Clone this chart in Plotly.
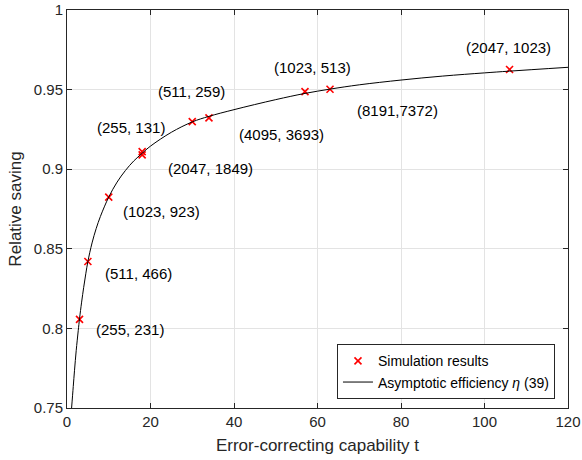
import plotly.graph_objects as go

# Simulation results (error-correcting capability t, relative saving)
sim_t = [3, 5, 10, 18, 18, 30, 34, 57, 63, 106]
sim_y = [0.8057, 0.842, 0.8825, 0.911, 0.909, 0.9299, 0.9322, 0.9487, 0.9502, 0.9626]

# Asymptotic efficiency curve
curve_t = [1.1, 1.5, 1.8, 2.2, 2.7, 3, 3.5, 4, 4.5, 5, 6, 7, 8, 10, 12, 14, 16, 18, 20,
           25, 30, 34, 40, 50, 57, 63, 70, 80, 90, 100, 106, 120]
curve_y = [0.750, 0.7635, 0.7737, 0.786, 0.7988, 0.806, 0.8165, 0.8258, 0.8343, 0.842,
           0.8537, 0.8628, 0.8703, 0.8825, 0.8919, 0.8992, 0.9052, 0.910, 0.9145,
           0.9232, 0.9297, 0.9332, 0.9374, 0.9437, 0.9476, 0.9503, 0.9530, 0.9560,
           0.9585, 0.9605, 0.9616, 0.9640]

# Code labels (n, k) and their positions
label_text = ["(255, 231)", "(511, 466)", "(1023, 923)", "(255, 131)", "(2047, 1849)",
              "(511, 259)", "(4095, 3693)", "(1023, 513)", "(8191,7372)", "(2047, 1023)"]
label_t = [15.1, 17.2, 22.7, 15.3, 34.4, 29.9, 51.3, 58.8, 79.1, 105.7]
label_y = [0.7994, 0.8344, 0.8736, 0.9265, 0.9004, 0.9491, 0.9217, 0.9638, 0.9366, 0.9764]

x_ticks = [0, 20, 40, 60, 80, 100, 120]
y_ticks = [0.75, 0.8, 0.85, 0.9, 0.95, 1]
y_ticklabels = ["0.75", "0.8", "0.85", "0.9", "0.95", "1"]

FONT = "Liberation Sans, Arial, sans-serif"
AX = "#262626"

fig = go.Figure()
fig.add_trace(go.Scatter(
    x=sim_t, y=sim_y, mode="markers", name="Simulation results",
    marker=dict(symbol="x-thin", size=7, color="red", line=dict(width=1.6, color="red")),
))
fig.add_trace(go.Scatter(
    x=curve_t, y=curve_y, mode="lines", name="Asymptotic efficiency <i>η</i> (39)",
    line=dict(color="black", width=1, shape="spline", smoothing=1),
))

for txt, tx, ty in zip(label_text, label_t, label_y):
    fig.add_annotation(x=tx, y=ty, text=txt, showarrow=False,
                       font=dict(family=FONT, size=15, color="black"),
                       xanchor="center", yanchor="middle")

axis_common = dict(
    showline=True, linecolor=AX, linewidth=1, mirror="ticks",
    ticks="inside", ticklen=5, tickcolor=AX, tickwidth=1,
    showgrid=True, gridcolor="#e3e3e3", gridwidth=1,
    zeroline=False, automargin=False, ticklabeloverflow="allow",
    tickfont=dict(family=FONT, size=15, color=AX),
)

fig.update_xaxes(range=[0, 120], tickvals=x_ticks,
                 title=dict(text="Error-correcting capability t",
                            font=dict(family=FONT, size=17, color=AX), standoff=10),
                 **axis_common)
fig.update_yaxes(range=[0.75, 1], tickvals=y_ticks, ticktext=y_ticklabels,
                 title=dict(text="Relative saving",
                            font=dict(family=FONT, size=17, color=AX), standoff=7),
                 **axis_common)

fig.update_layout(
    width=582, height=460,
    margin=dict(l=67, r=14, t=10, b=52),
    paper_bgcolor="white", plot_bgcolor="white",
    showlegend=True,
    legend=dict(x=0.974, y=0.022, xanchor="right", yanchor="bottom",
                bgcolor="white", bordercolor=AX, borderwidth=1,
                font=dict(family=FONT, size=14, color="black"),
                tracegroupgap=0),
)

fig.write_html("out.html")
